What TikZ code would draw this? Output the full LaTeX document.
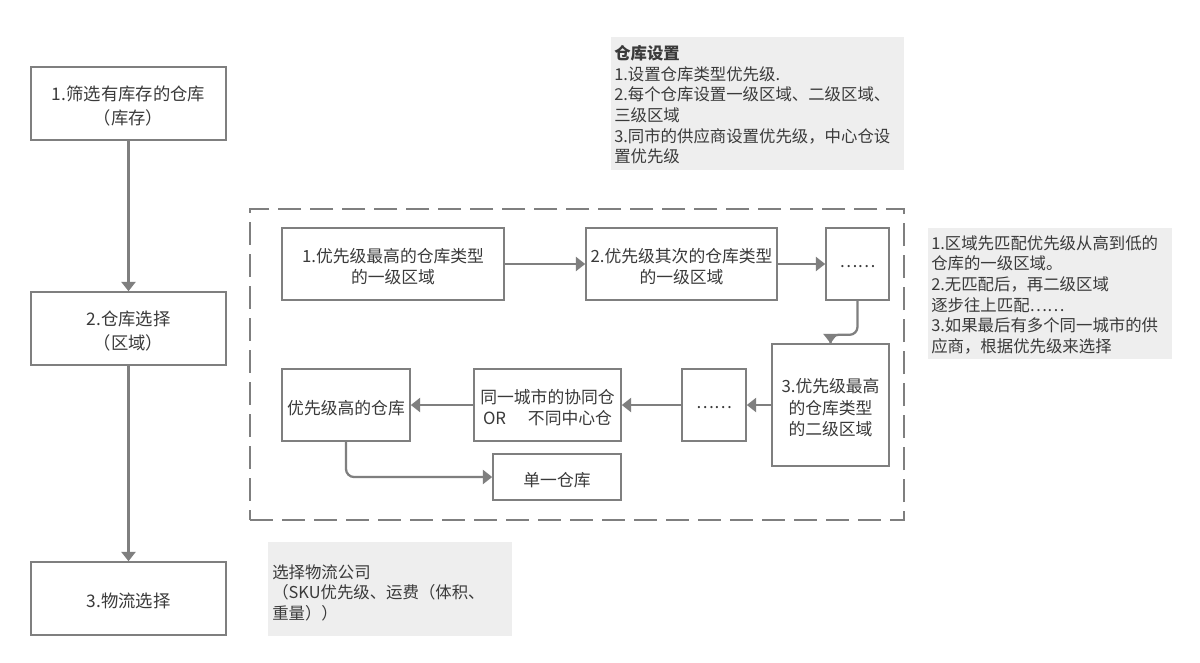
\documentclass[tikz,border=0pt]{standalone}
\usepackage{fontspec}
\setmainfont{Noto Sans CJK SC}
\usetikzlibrary{arrows.meta,fit}
\definecolor{bordergray}{HTML}{7F7F7F}
\definecolor{txtgray}{HTML}{3A3A3A}
\definecolor{notefill}{HTML}{EEEEEE}
\begin{document}
\begin{tikzpicture}[x=0.75pt,y=-0.75pt,
  box/.style={draw=bordergray, line width=1.2pt, inner sep=0pt},
  boxtxt/.style={text=txtgray, align=center, inner sep=0pt, font=\fontsize{12.6}{16.2}\selectfont},
  bigtxt/.style={boxtxt, font=\fontsize{13}{18}\selectfont},
  arr/.style={draw=bordergray, line width=1.7pt, -{Triangle[width=10.5pt,length=7pt]}},
  notebg/.style={fill=notefill, draw=none, inner sep=0pt},
  notetxt/.style={text=txtgray, align=left, inner sep=0pt, anchor=north west, font=\fontsize{12.3}{15.5}\selectfont},
  frame/.style={draw=bordergray, line width=1.2pt, dash pattern=on 17pt off 7pt, inner sep=0pt}]
\useasboundingbox (0,0) rectangle (1200,662);
\fill[white] (0,0) rectangle (1200,662);

% left column
\node[box, fit={(31,67) (226,140)}] (s1) {};
\node[box, fit={(31,292) (226,365)}] (s2) {};
\node[box, fit={(31,562) (226,635)}] (s3) {};
\node[bigtxt] (s1t) at ([yshift=-2pt]s1.center) {1.筛选有库存的仓库\\（库存）};
\node[bigtxt] (s2t) at ([yshift=-2pt]s2.center) {2.仓库选择\\（区域）};
\node[bigtxt] (s3t) at ([yshift=-2pt]s3.center) {3.物流选择};
\draw[arr] (s1) -- (s2);
\draw[arr] (s2) -- (s3);

% dashed frame
\node[frame, fit={(250,209) (904,520)}] (frm) {};

\node[box, fit={(282,228) (504,300)}] (A) {};
\node[box, fit={(586,228) (777,300)}] (B) {};
\node[box, fit={(826,228) (889,300)}] (C) {};
\node[box, fit={(772,344) (889,466)}] (D) {};
\node[box, fit={(682,369) (746,441)}] (E) {};
\node[box, fit={(474,369) (621,441)}] (F) {};
\node[box, fit={(282,369) (410,441)}] (G) {};
\node[box, fit={(493,454) (621,500)}] (H) {};

\node[boxtxt] (At) at ([yshift=-2pt]A.center) {1.优先级最高的仓库类型\\的一级区域};
\node[boxtxt] (Bt) at ([yshift=-2pt]B.center) {2.优先级其次的仓库类型\\的一级区域};
\node[boxtxt] (Ct) at ([yshift=-2pt]C.center) {……};
\node[boxtxt] (Dt) at ([yshift=-2pt]D.center) {3.优先级最高\\的仓库类型\\的二级区域};
\node[boxtxt] (Et) at ([yshift=-2pt]E.center) {……};
\node[boxtxt] (Ft) at ([yshift=-2pt]F.center) {同一城市的协同仓\\OR\hspace{1.3em}不同中心仓};
\node[boxtxt] (Gt) at ([yshift=-2pt]G.center) {优先级高的仓库};
\node[boxtxt] (Ht) at ([yshift=-2pt]H.center) {单一仓库};

\draw[arr] (A) -- (B);
\draw[arr] (B) -- (C);
\draw[arr, rounded corners=6pt] (C.south) -- ++(0,34) -| (D.north);
\draw[arr] (D) -- (E);
\draw[arr] (E) -- (F);
\draw[arr] (F) -- (G);
\draw[arr, rounded corners=6pt] (G.south) |- (H.west);

% notes
\node[notebg, fit={(611,37) (904,170)}] (n1bg) {};
\node[notetxt] (n1) at (614,45) {\textbf{仓库设置}\\1.设置仓库类型优先级.\\2.每个仓库设置一级区域、二级区域、\\三级区域\\3.同市的供应商设置优先级，中心仓设\\置优先级};

\node[notebg, fit={(928,228) (1172,359)}] (n2bg) {};
\node[notetxt] (n2) at (931,235) {1.区域先匹配优先级从高到低的\\仓库的一级区域。\\2.无匹配后，再二级区域\\逐步往上匹配……\\3.如果最后有多个同一城市的供\\应商，根据优先级来选择};

\node[notebg, fit={(268,542) (512,636)}] (n3bg) {};
\node[notetxt] (n3) at (272,564) {选择物流公司\\（SKU优先级、运费（体积、\\重量））};
\end{tikzpicture}
\end{document}
